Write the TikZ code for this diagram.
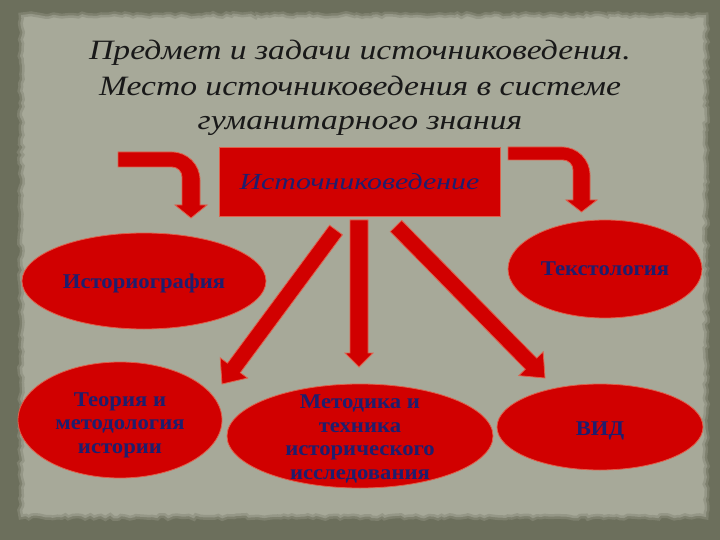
\documentclass[tikz,border=0pt]{standalone}
\usepackage{fontspec}
\usetikzlibrary{shapes.geometric,calc,decorations.pathmorphing}
\setmainfont{Liberation Serif}
\newfontfamily\ttlfont[FakeStretch=1.2]{Liberation Serif}
\newfontfamily\boxfont[FakeStretch=1.3]{Liberation Serif}
\newfontfamily\lblfont[FakeStretch=1.08]{Liberation Serif}
\definecolor{bgdark}{HTML}{6C6F5C}
\definecolor{panelc}{HTML}{A7A999}
\definecolor{paneledge}{HTML}{8A8C7B}
\definecolor{redf}{HTML}{D10000}
\definecolor{redl}{HTML}{E0604C}
\definecolor{navy}{HTML}{1E1E6E}
\tikzset{
  redshape/.style={fill=redf, draw=redl, line width=0.8pt},
  oval/.style={ellipse, redshape, inner sep=0pt},
  ovaltext/.style={inner sep=0pt, align=center, text=navy,
    font=\lblfont\bfseries\fontsize{21pt}{23.5pt}\selectfont},
  mainbox/.style={rectangle, redshape, inner sep=0pt, text=navy,
    font=\boxfont\itshape\fontsize{23pt}{27pt}\selectfont},
  titletext/.style={anchor=base, inner sep=0pt, text=black!90,
    font=\ttlfont\itshape\fontsize{28pt}{32pt}\selectfont}
}
\newcommand{\blockarr}[5]{%
  \coordinate (hb) at ($(#2)!#5!(#1)$);
  \path[redshape] ($(#1)!#3!90:(#2)$) -- ($(hb)!#3!-90:(#1)$) -- ($(hb)!#4!-90:(#1)$)
    -- (#2) -- ($(hb)!#4!90:(#1)$) -- ($(hb)!#3!90:(#1)$) -- ($(#1)!#3!-90:(#2)$) -- cycle;}
\begin{document}
\begin{tikzpicture}[x=1pt,y=-1pt]
\useasboundingbox (0,0) rectangle (720,540);
\fill[bgdark] (0,0) rectangle (720,540);
\pgfmathsetseed{7}
\fill[panelc, draw=paneledge, line width=5pt, draw opacity=0.6, decorate,
  decoration={random steps, segment length=4pt, amplitude=1.5pt}] (21,15) rectangle (706,517);

% title
\node[titletext] (t1) at (360,60) {Предмет и задачи источниковедения.};
\node[titletext] (t2) at (360,96) {Место источниковедения в системе};
\node[titletext] (t3) at (360,130) {гуманитарного знания};

% central box
\node[mainbox, minimum width=281pt, minimum height=69pt] (src) at (359.5,181.5) {Источниковедение};

% ovals
\node[oval, minimum width=244pt, minimum height=96pt,
  label={[ovaltext, yshift=-2pt]center:Историография}] (hist) at (144,281) {};
\node[oval, minimum width=194pt, minimum height=98pt,
  label={[ovaltext]center:Текстология}] (text) at (605,269) {};
\node[oval, minimum width=204pt, minimum height=116pt,
  label={[ovaltext, yshift=-5pt]center:Теория и\\методология\\истории}] (teor) at (120,420) {};
\node[oval, minimum width=266pt, minimum height=104pt,
  label={[ovaltext, yshift=-3pt]center:Методика и\\техника\\исторического\\исследования}] (meth) at (360,436) {};
\node[oval, minimum width=206pt, minimum height=86pt,
  label={[ovaltext, yshift=-4pt]center:ВИД}] (vid) at (600,427) {};

% bent arrows
\path[redshape] (118,152) -- (172,152) .. controls (187.5,152) and (200,164.5) .. (200,180)
  -- (200,205) -- (207,205) -- (191,218) -- (175,205) -- (182,205) -- (182,177)
  .. controls (182,171.5) and (177.5,167) .. (172,167) -- (118,167) -- cycle;
\path[redshape] (508,147) -- (562,147) .. controls (577.5,147) and (590,159.5) .. (590,175)
  -- (590,200) -- (597,200) -- (581.5,212) -- (566,200) -- (573,200) -- (573,170)
  .. controls (573,164.5) and (568.5,160) .. (563,160) -- (508,160) -- cycle;

% straight block arrows
\coordinate (ma) at (359,220);
\coordinate (mb) at (359,367);
\coordinate (la) at (336,230);
\coordinate (lb) at (222,384);
\coordinate (ra) at (396,226);
\coordinate (rb) at (545,378);
\blockarr{ma}{mb}{9pt}{14pt}{14pt}
\blockarr{la}{lb}{8pt}{17pt}{20pt}
\blockarr{ra}{rb}{8pt}{17pt}{20pt}
\end{tikzpicture}
\end{document}
